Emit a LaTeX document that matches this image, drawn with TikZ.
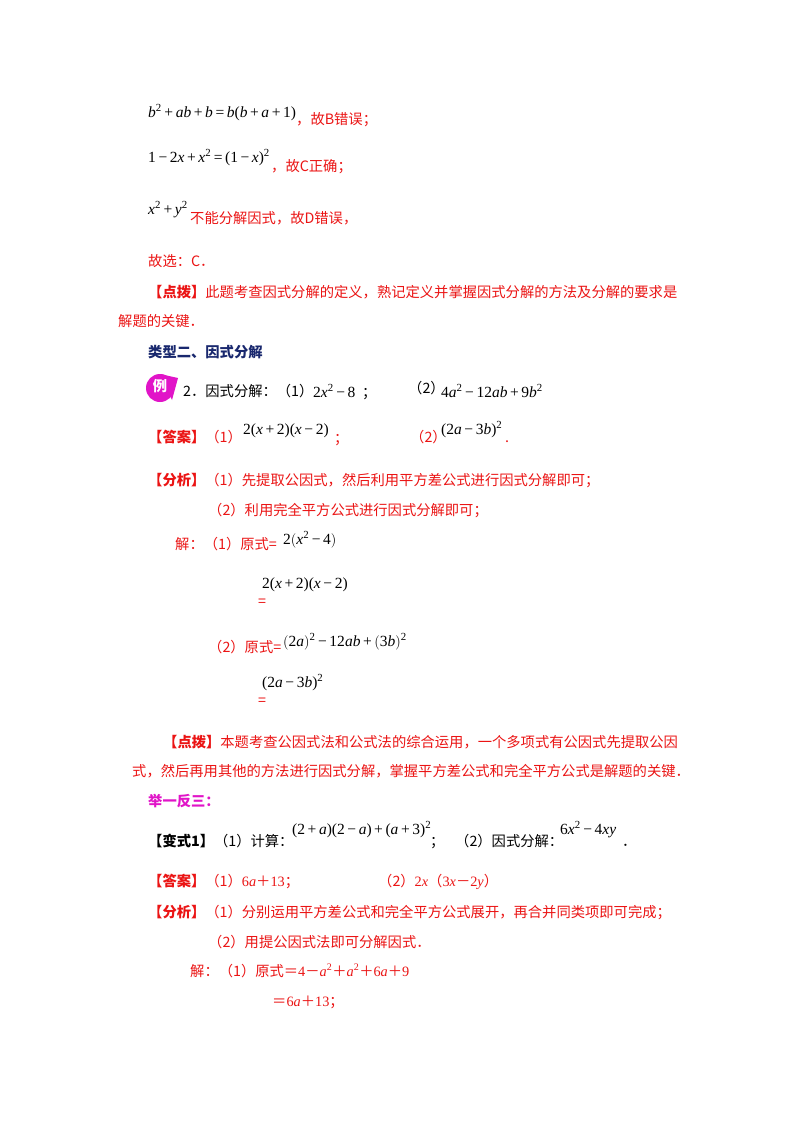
\documentclass[tikz,border=0pt]{standalone}
\usepackage{fontspec}
\setmainfont{Liberation Serif}
\newfontfamily\cjk{Noto Sans CJK SC}
\newfontfamily\ser{Liberation Serif}
\newcommand\vi[1]{\textit{#1}}
\newcommand\sq{\textsuperscript{2}}
\newcommand\pl{\,+\,}
\newcommand\mn{\,−\,}
\newcommand\eqs{\,=\,}
\definecolor{rd}{RGB}{235,20,20}
\definecolor{nv}{RGB}{25,40,110}
\definecolor{mg}{RGB}{225,20,200}
\begin{document}
\begin{tikzpicture}[x=1pt,y=-1pt,
 t/.style={anchor=base west,inner sep=0pt,font=\fontsize{14.3}{16}\selectfont\cjk,text=rd},
 k/.style={anchor=base west,inner sep=0pt,font=\fontsize{14.3}{16}\selectfont\cjk},
 m/.style={anchor=base west,inner sep=0pt,font=\fontsize{15.5}{17}\selectfont\ser}]
\fill[white] (0,0) rectangle (800,1132);
\useasboundingbox (0,0) rectangle (800,1132);
\node[m] (a1) at (148,117) {\vi{b}\sq\pl\vi{ab}\pl\vi{b}\eqs\vi{b}(\vi{b}\pl\vi{a}\pl1)};
\node[t] (a2) at (296,124) {，故B错误；};
\node[m] (b1) at (148,162) {1\mn2\vi{x}\pl\vi{x}\sq\eqs(1\mn\vi{x})\sq};
\node[t] (b2) at (271,171) {，故C正确；};
\node[m] (c1) at (148,214) {\vi{x}\sq\pl\vi{y}\sq};
\node[t] (c2) at (190,223) {不能分解因式，故D错误，};
\node[t] (d1) at (148,266) {故选：C．};
\node[t] (e1) at (148,297) {\textbf{【点拨】}此题考查因式分解的定义，熟记定义并掌握因式分解的方法及分解的要求是};
\node[t] (e2) at (118,326) {解题的关键．};
\node[k,text=nv] (h1) at (148,357) {\textbf{类型二、因式分解}};
\fill[mg] (160,388) circle (14);
\fill[mg] (160,374) -- (178,378) -- (172,400) -- cycle;
\node[k,text=white,anchor=center] (ic) at (160,386) {\textbf{例}};
\node[k] (q1) at (183,396) {2．因式分解：（1）};
\node[m] (q2) at (313,397) {2\vi{x}\sq\mn8};
\node[k] (q2b) at (362,397) {；};
\node[k] (q3) at (408,393) {（2）};
\node[m] (q4) at (441,397) {4\vi{a}\sq\mn12\vi{ab}\pl9\vi{b}\sq};
\node[t] (r1) at (148,442) {\textbf{【答案】}（1）};
\node[m] (r2) at (243,434) {2(\vi{x}\pl2)(\vi{x}\mn2)};
\node[t] (r3) at (334,443) {；};
\node[t] (r4) at (410,442) {（2）};
\node[m] (r5) at (441,434) {(2\vi{a}\mn3\vi{b})\sq};
\node[t] (r6) at (505,442) {.};
\node[t] (s1) at (148,485) {\textbf{【分析】}（1）先提取公因式，然后利用平方差公式进行因式分解即可；};
\node[t] (s2) at (208,515) {（2）利用完全平方公式进行因式分解即可；};
\node[t] (u1) at (175,549) {解：（1）原式=};
\node[m] (u2) at (283,544) {2\big(\vi{x}\sq\mn4\big)};
\node[t] (u3) at (258,606) {=};
\node[m] (u4) at (262,588) {2(\vi{x}\pl2)(\vi{x}\mn2)};
\node[t] (u5) at (208,652) {（2）原式=};
\node[m] (u6) at (283,646) {\big(2\vi{a}\big)\sq\mn12\vi{ab}\pl\big(3\vi{b}\big)\sq};
\node[t] (u7) at (258,705) {=};
\node[m] (u8) at (262,687) {(2\vi{a}\mn3\vi{b})\sq};
\node[t] (v1) at (163,747) {\textbf{【点拨】}本题考查公因式法和公式法的综合运用，一个多项式有公因式先提取公因};
\node[t] (v2) at (132,776) {式，然后再用其他的方法进行因式分解，掌握平方差公式和完全平方公式是解题的关键．};
\node[k,text=mg] (w1) at (148,806) {\textbf{举一反三：}};
\node[k] (x1) at (148,846) {\textbf{【变式1】}（1）计算：};
\node[m] (x2) at (292,834) {(2\pl\vi{a})(2\mn\vi{a})\pl(\vi{a}\pl3)\sq};
\node[k] (x3) at (430,846) {；};
\node[k] (x4) at (455,846) {（2）因式分解：};
\node[m] (x5) at (560,834) {6\vi{x}\sq\mn4\vi{xy}};
\node[k] (x6) at (622,846) {．};
\node[t] (y1) at (148,886) {\textbf{【答案】}（1）{\ser 6\vi{a}}＋{\ser 13}；};
\node[t] (y2) at (378,886) {（2）{\ser 2\vi{x}}（{\ser 3\vi{x}}－{\ser 2\vi{y}}）};
\node[t] (z1) at (148,917) {\textbf{【分析】}（1）分别运用平方差公式和完全平方公式展开，再合并同类项即可完成；};
\node[t] (z2) at (208,947) {（2）用提公因式法即可分解因式．};
\node[t] (z3) at (190,976) {解：（1）原式＝{\ser 4}－{\ser\vi{a}\sq}＋{\ser\vi{a}\sq}＋{\ser 6\vi{a}}＋{\ser 9}};
\node[t] (z4) at (272,1006) {＝{\ser 6\vi{a}}＋{\ser 13}；};
\end{tikzpicture}
\end{document}
